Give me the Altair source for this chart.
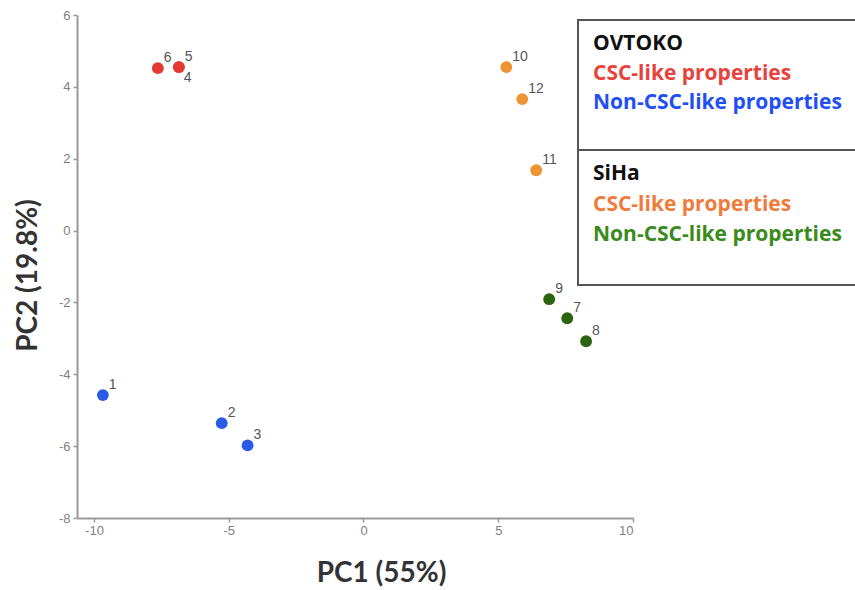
import altair as alt
import pandas as pd

# ---- data ----
sample_ids = ["1", "2", "3", "4", "5", "6", "7", "8", "9", "10", "11", "12"]
pc1 = [-9.67, -5.26, -4.30, -6.85, -6.85, -7.63, 7.56, 8.26, 6.89, 5.30, 6.41, 5.89]
pc2 = [-4.58, -5.36, -5.98, 4.55, 4.55, 4.52, -2.44, -3.08, -1.91, 4.55, 1.68, 3.66]
groups = ["OV-non", "OV-non", "OV-non", "OV-csc", "OV-csc", "OV-csc",
          "SiHa-non", "SiHa-non", "SiHa-non", "SiHa-csc", "SiHa-csc", "SiHa-csc"]
group_order = ["OV-csc", "OV-non", "SiHa-csc", "SiHa-non"]
group_colors = ["#e53a2f", "#2b5be6", "#ef9433", "#2c6410"]

legend_lines = ["OVTOKO", "CSC-like properties", "Non-CSC-like properties",
                "SiHa", "CSC-like properties", "Non-CSC-like properties"]
legend_colors = ["#111111", "#e8423c", "#1f4ff5", "#111111", "#f07c3c", "#3a8a1c"]
x_ticks = [-10, -5, 0, 5, 10]
y_ticks = [-8, -6, -4, -2, 0, 2, 4, 6]

df = pd.DataFrame({"id": sample_ids, "pc1": pc1, "pc2": pc2, "group": groups})
# label 4 sits below-right, others above-right
df["lab_up"] = [s if s != "4" else "" for s in sample_ids]
df["lab_dn"] = [s if s == "4" else "" for s in sample_ids]

W, H = 556, 503

xscale = alt.Scale(domain=[-10.63, 10], nice=False, zero=False)
yscale = alt.Scale(domain=[-8, 6], nice=False, zero=False)

base = alt.Chart(df)

points = base.mark_circle(size=140, opacity=1).encode(
    x=alt.X("pc1:Q", scale=xscale,
            axis=alt.Axis(title="PC1 (55%)", values=x_ticks, grid=False,
                          labelExpr="toString(datum.value)",
                          titleX=304, titleY=41, titleBaseline="top",
                          titleAlign="center")),
    y=alt.Y("pc2:Q", scale=yscale,
            axis=alt.Axis(title="PC2 (19.8%)", values=y_ticks, grid=False,
                          labelExpr="toString(datum.value)",
                          titleX=-49, titleY=260, titleAlign="center",
                          titleBaseline="middle")),
    color=alt.Color("group:N", scale=alt.Scale(domain=group_order, range=group_colors),
                    legend=None),
)

labels_up = base.mark_text(align="left", baseline="bottom", dx=6, dy=-3,
                           font="Liberation Sans", fontSize=14, color="#555555").encode(
    x="pc1:Q", y="pc2:Q", text="lab_up:N")
labels_dn = base.mark_text(align="left", baseline="top", dx=5, dy=4,
                           font="Liberation Sans", fontSize=14, color="#555555").encode(
    x="pc1:Q", y="pc2:Q", text="lab_dn:N")

# ---- custom legend box ----
box_df = pd.DataFrame({"part": ["box"]})
box = alt.Chart(box_df).mark_rect(fill="white", stroke="#555555", strokeWidth=2).encode(
    x=alt.value(501), x2=alt.value(800), y=alt.value(5), y2=alt.value(270),
)
divider = alt.Chart(box_df).mark_rule(color="#555555", strokeWidth=2).encode(
    x=alt.value(501), x2=alt.value(800), y=alt.value(135),
)

leg_df = pd.DataFrame({"text": legend_lines, "color": legend_colors})
leg_df["ypix"] = [29, 59, 88, 159, 190, 220]
legend_text = alt.Chart(leg_df).mark_text(align="left", baseline="middle",
                                          font="Open Sans", fontWeight="bold",
                                          fontSize=21).encode(
    x=alt.value(516),
    y=alt.Y("ypix:Q", scale=None),
    text="text:N",
    color=alt.Color("color:N", scale=None),
)

chart = alt.layer(points, labels_up, labels_dn, box, divider, legend_text).properties(
    width=W, height=H,
    autosize=alt.AutoSizeParams(type="none"),
    padding={"left": 77, "top": 15, "right": 222, "bottom": 72},
).configure_view(stroke=None).configure_axis(
    domainColor="#999999", domainWidth=2, tickColor="#999999", tickWidth=1.5,
    tickSize=4, labelFont="Liberation Sans", labelFontSize=13, labelColor="#808080",
    titleFont="Lato", titleFontSize=28, titleFontWeight="bold", titleColor="#333333",
).configure_axisY(labelPadding=3)

chart.save("out.html", embed_options={"renderer": "svg", "actions": False})
